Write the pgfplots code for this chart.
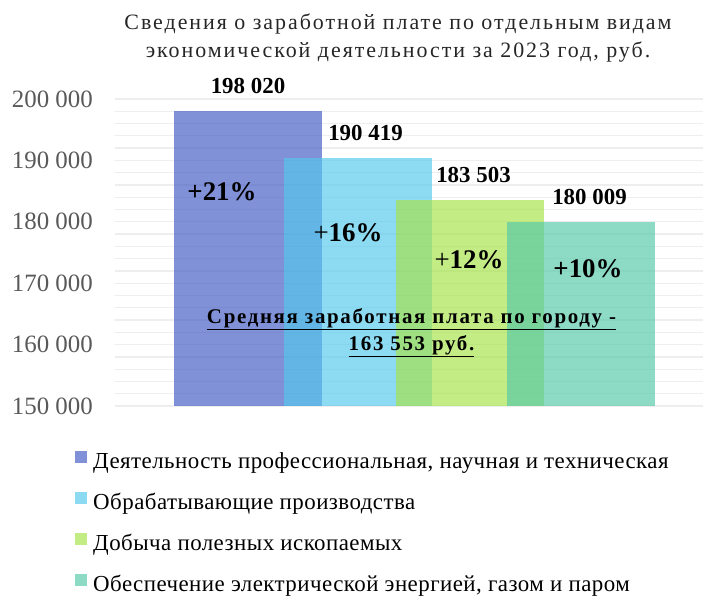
\documentclass[border=0pt]{standalone}
\usepackage{fontspec}
\setmainfont{Liberation Serif}
\newfontfamily\titlefont{Liberation Serif}[LetterSpace=9]
\newfontfamily\midfont{Liberation Serif}[LetterSpace=8]
\newfontfamily\legfont{Liberation Serif}[LetterSpace=2]
\usepackage{pgfplots}
\pgfplotsset{compat=1.18}
\definecolor{cBlue}{RGB}{63,88,196}
\definecolor{cCyan}{RGB}{82,200,237}
\definecolor{cGreen}{RGB}{166,226,70}
\definecolor{cTeal}{RGB}{82,200,167}
\definecolor{gridc}{RGB}{238,238,238}
\definecolor{tickc}{RGB}{89,89,89}
\begin{document}
\begin{tikzpicture}
\useasboundingbox (-115bp,-190bp) rectangle (588bp,406bp);
\begin{axis}[
  at={(0bp,0bp)}, anchor=south west, scale only axis,
  width=588bp, height=307bp,
  xmin=0, xmax=588, ymin=150000, ymax=200000,
  axis line style={draw=none}, tick style={draw=none},
  xtick=\empty, scaled y ticks=false,
  ytick={150000,160000,170000,180000,190000,200000},
  yticklabels={150 000,160 000,170 000,180 000,190 000,200 000},
  minor y tick num=4,
  ymajorgrids, yminorgrids,
  major grid style={draw=gridc, line width=1.3bp},
  minor grid style={draw=gridc, line width=1.3bp},
  yticklabel style={font=\fontsize{25}{25}\selectfont, text=tickc, inner sep=0pt, xshift=-22bp},
  ybar, bar width=148, bar shift=0pt,
  point meta=explicit symbolic,
  nodes near coords,
  every node near coord/.append style={font=\bfseries\fontsize{23}{23}\selectfont, text=black, text opacity=1, fill opacity=1, anchor=south, inner sep=0pt, yshift=17bp},
  legend style={at={(-0.068,-0.146)}, anchor=north west, draw=none, fill=none,
    inner sep=0pt, row sep=20bp,
    font=\legfont\fontsize{23}{23}\selectfont,
    nodes={inner sep=0pt, text height=14bp, text depth=4bp},
    /tikz/every odd column/.append style={column sep=6bp}},
  legend cell align=left,
  legend image code/.code={\fill[#1] (0bp,0bp) rectangle (12bp,12bp);},
]
\addplot[fill=cBlue, draw=none, fill opacity=0.66] coordinates {(133,198020) [{198 020}]};
\addplot[fill=cCyan, draw=none, fill opacity=0.66, every node near coord/.append style={xshift=8bp}] coordinates {(242.5,190419) [{190 419}]};
\addplot[fill=cGreen, draw=none, fill opacity=0.66, every node near coord/.append style={xshift=4bp}] coordinates {(354.5,183503) [{183 503}]};
\addplot[fill=cTeal, draw=none, fill opacity=0.66, every node near coord/.append style={xshift=9bp}] coordinates {(465.5,180009) [{180 009}]};
\legend{{Деятельность профессиональная, научная и техническая},
{Обрабатывающие производства},
{Добыча полезных ископаемых},
{Обеспечение электрической энергией, газом и паром}}
\end{axis}
\node[align=center, font=\titlefont\fontsize{22}{28}\selectfont, text=black!85] at (283bp,368bp) {Сведения о заработной плате по отдельным видам\\экономической деятельности за 2023 год, руб.};
\node[font=\bfseries\fontsize{27}{27}\selectfont] at (107bp,214bp) {+21\%};
\node[font=\fontsize{27}{27}\selectfont] at (233bp,173bp) {+\textbf{16\%}};
\node[font=\fontsize{27}{27}\selectfont] at (354bp,146bp) {+\textbf{12\%}};
\node[font=\bfseries\fontsize{27}{27}\selectfont] at (473bp,137bp) {+10\%};
\node[align=center, font=\midfont\bfseries\fontsize{21}{27}\selectfont] at (296.5bp,73bp) {\underline{Средняя заработная плата по городу -}\\\underline{163 553 руб.}};
\end{tikzpicture}
\end{document}
